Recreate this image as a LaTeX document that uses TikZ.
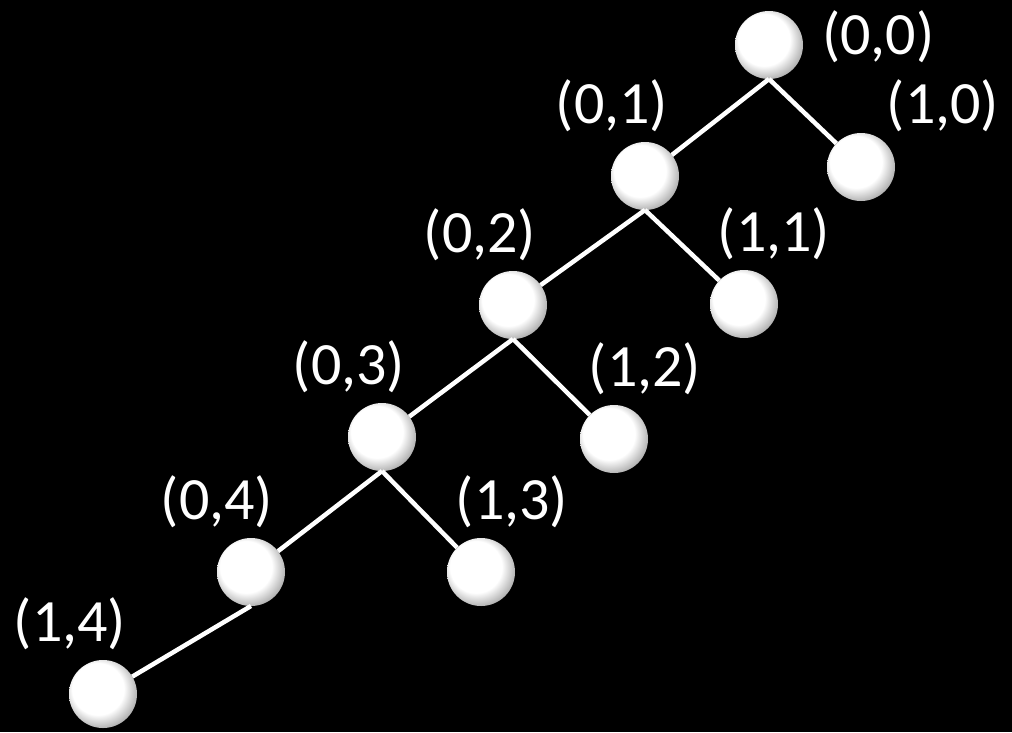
\documentclass[tikz,border=0pt]{standalone}
\usepackage{fontspec}
\setmainfont{Carlito}
\usetikzlibrary{positioning}
\pgfdeclareradialshading{pearl}{\pgfpoint{-6bp}{6bp}}{color(0bp)=(white); color(19bp)=(white); color(28bp)=(gray!60); color(32bp)=(gray!85); color(50bp)=(gray!85)}

\begin{document}
\begin{tikzpicture}[
    x=1pt, y=-1pt,
    ball/.style={circle, shading=pearl, minimum size=68pt, inner sep=0pt, outer sep=0pt},
    lbl/.style={text=white, inner sep=0pt, font=\fontsize{60}{62}\selectfont},
    link/.style={draw=white, line width=4.5pt}
]
\fill[black] (0,0) rectangle (1012,732);
\useasboundingbox (0,0) rectangle (1012,732);

% --- Left chain ---
\node[ball] (n00) at (769,45) {};
\node[ball] (n01) at (645,176) {};
\node[ball] (n02) at (513,305) {};
\node[ball] (n03) at (382,437) {};
\node[ball] (n04) at (251,572) {};
\node[ball] (n14) at (103,694) {};

% --- Right children ---
\node[ball] (n10) at (861,167) {};
\node[ball] (n11) at (744,304) {};
\node[ball] (n12) at (614,439) {};
\node[ball] (n13) at (481,572) {};

% --- Labels ---
\node[lbl, right=19pt of n00, yshift=8pt] (l00) {(0,0)};
\node[lbl, above=1pt of n10, xshift=82pt] (l10) {(1,0)};
\node[lbl, above=10pt of n01, xshift=-33pt] (l01) {(0,1)};
\node[lbl, above=10pt of n11, xshift=30pt] (l11) {(1,1)};
\node[lbl, above=10pt of n02, xshift=-33pt] (l02) {(0,2)};
\node[lbl, above=10pt of n12, xshift=31pt] (l12) {(1,2)};
\node[lbl, above=10pt of n03, xshift=-33pt] (l03) {(0,3)};
\node[lbl, above=10pt of n13, xshift=31pt] (l13) {(1,3)};
\node[lbl, above=10pt of n04, xshift=-34pt] (l04) {(0,4)};
\node[lbl, above=10pt of n14, xshift=-33pt] (l14) {(1,4)};

\draw[link] (n00.south)--(n01); \draw[link] (n00.south)--(n10);
\draw[link] (n01.south)--(n02); \draw[link] (n01.south)--(n11);
\draw[link] (n02.south)--(n03); \draw[link] (n02.south)--(n12);
\draw[link] (n03.south)--(n04); \draw[link] (n03.south)--(n13);
\draw[link] (n04.south)--(n14);
\end{tikzpicture}
\end{document}
